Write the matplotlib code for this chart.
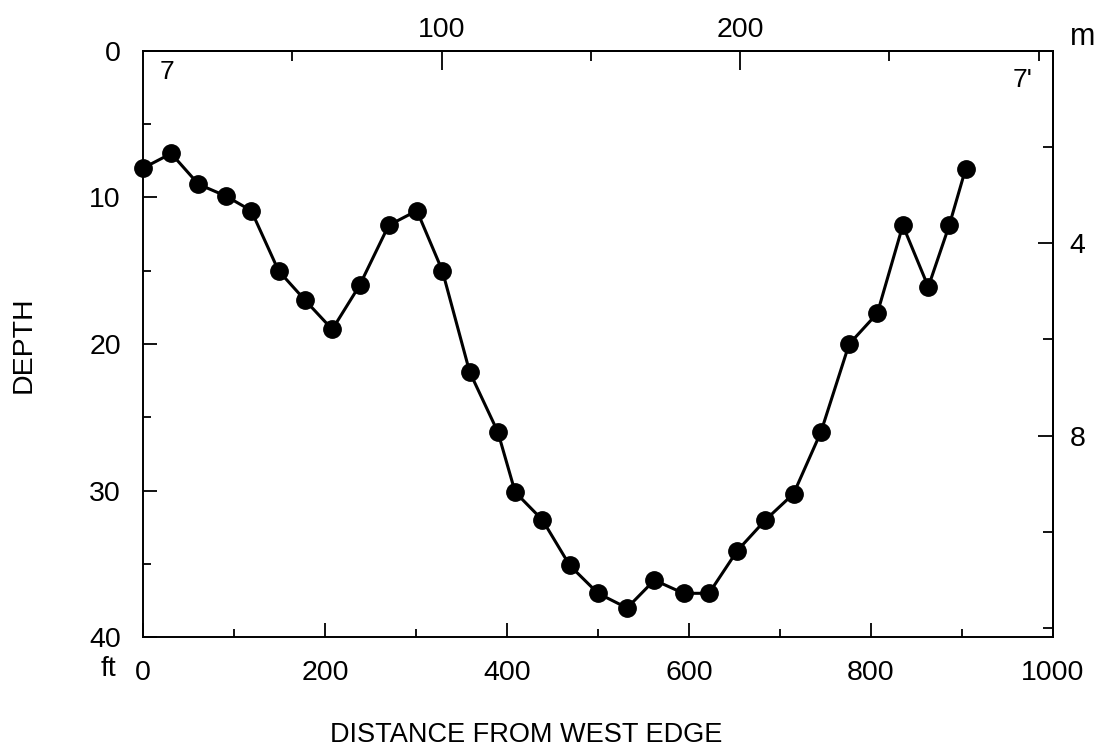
import numpy as np
import matplotlib.pyplot as plt
from matplotlib.ticker import MultipleLocator, FixedLocator

plt.rcParams['font.family'] = ['Liberation Sans', 'DejaVu Sans']

# survey line 7 - 7', depth below water surface (ft)
dist_ft = [0, 31, 61, 91, 119, 149, 178, 208, 238, 270, 301, 329, 359, 390, 409, 439,
           469, 500, 532, 562, 594, 622, 653, 684, 715, 745, 776, 807, 835, 863, 886, 904]
depth_ft = [8.0, 7.0, 9.1, 9.9, 10.9, 15.0, 17.0, 19.0, 16.0, 11.9, 10.9, 15.0, 21.9, 26.0,
            30.1, 32.0, 35.1, 37.0, 38.0, 36.1, 37.0, 37.0, 34.1, 32.0, 30.2, 26.0, 20.0,
            17.9, 11.9, 16.1, 11.9, 8.05]

FT_PER_M = 3.2808

def ft2m(x):
    return np.asarray(x) / FT_PER_M

def m2ft(x):
    return np.asarray(x) * FT_PER_M

W, H = 1094, 748
fig = plt.figure(figsize=(W / 100, H / 100), dpi=100)
ax = fig.add_axes([0.1307, 0.148, 0.8318, 0.784])

ax.plot(dist_ft, depth_ft, color='black', lw=2.2, marker='o', ms=12.5,
        markerfacecolor='black', markeredgecolor='black', clip_on=False)

ax.set_xlim(0, 1000)
ax.set_ylim(40, 0)
ax.xaxis.set_major_locator(MultipleLocator(200))
ax.xaxis.set_minor_locator(MultipleLocator(100))
ax.yaxis.set_major_locator(MultipleLocator(10))
ax.yaxis.set_minor_locator(MultipleLocator(5))

for s in ax.spines.values():
    s.set_linewidth(1.4)

ax.tick_params(which='both', direction='in', width=1.3, labelsize=20.5, top=False, right=False)
ax.tick_params(which='major', length=10)
ax.tick_params(which='minor', length=6)
ax.tick_params(axis='x', pad=16)
ax.tick_params(axis='y', pad=16)

# metric scales on top and right
top = ax.secondary_xaxis('top', functions=(ft2m, m2ft))
top.xaxis.set_major_locator(FixedLocator([100, 200]))
top.xaxis.set_minor_locator(FixedLocator([50, 150, 250, 300]))
top.tick_params(which='both', direction='in', width=1.3, labelsize=20.5, pad=6)
top.tick_params(which='major', length=14)
top.tick_params(which='minor', length=7)
top.spines['top'].set_linewidth(1.4)

right = ax.secondary_yaxis('right', functions=(ft2m, m2ft))
right.yaxis.set_major_locator(FixedLocator([4, 8]))
right.yaxis.set_minor_locator(FixedLocator([2, 6, 10, 12]))
right.tick_params(which='both', direction='in', width=1.3, labelsize=20.5, pad=12)
right.tick_params(which='major', length=11)
right.tick_params(which='minor', length=7)
right.spines['right'].set_linewidth(1.4)

# axis titles and unit labels, placed in figure pixels
fig.text(526 / W, 1 - 735 / H, 'DISTANCE FROM WEST EDGE', fontsize=19.5, ha='center', va='center')
fig.text(24 / W, 1 - 345 / H, 'DEPTH', fontsize=20.5, rotation=90, ha='center', va='center')
fig.text(116 / W, 1 - 669 / H, 'ft', fontsize=20.5, ha='right', va='center')
fig.text(1070 / W, 1 - 37 / H, 'm', fontsize=22, ha='left', va='center')

# line end markers
ax.text(0.018, 0.985, '7', transform=ax.transAxes, fontsize=19, ha='left', va='top')
ax.text(0.978, 0.97, "7'", transform=ax.transAxes, fontsize=19, ha='right', va='top')

fig.savefig('out.png', dpi=100)
